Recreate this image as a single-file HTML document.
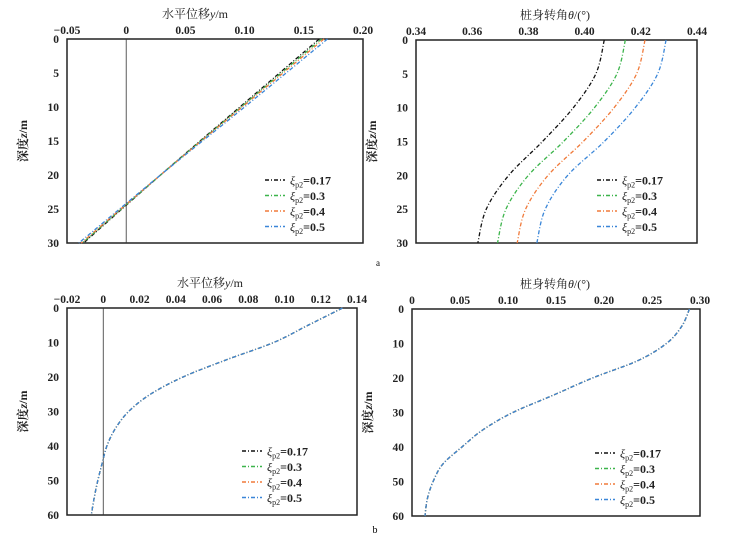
<!DOCTYPE html>
<html><head><meta charset="utf-8"><style>
html,body{margin:0;padding:0;background:#fff;}
svg{display:block;}
text{font-family:"Liberation Serif","Noto Serif CJK SC",serif;}
</style></head><body>
<svg id="fig" width="741" height="544" viewBox="0 0 741 544" xmlns="http://www.w3.org/2000/svg">
<text x="378" y="266" font-size="9" text-anchor="middle">a</text>
<text x="375" y="533" font-size="10" text-anchor="middle">b</text>
</svg>
<script>
// ---- data ----
const seriesNames = ["0.17","0.3","0.4","0.5"];
const seriesColors = ["#111111","#3cb44b","#f07a3a","#3a86d8"];

const depthA = [0, 10, 20, 30];
const dispA_017 = [0.163, 0.096, 0.029, -0.036];
const dispA_03  = [0.165, 0.097, 0.029, -0.037];
const dispA_04  = [0.167, 0.098, 0.029, -0.038];
const dispA_05  = [0.170, 0.100, 0.029, -0.040];

const depthA2 = [0, 5, 10, 15, 20, 25, 30];
const rotA_017 = [0.407, 0.404, 0.396, 0.385, 0.373, 0.365, 0.362];
const rotA_03  = [0.4145, 0.4115, 0.4035, 0.3925, 0.380, 0.372, 0.369];
const rotA_04  = [0.4215, 0.4185, 0.4105, 0.3995, 0.387, 0.379, 0.376];
const rotA_05  = [0.429, 0.426, 0.418, 0.407, 0.394, 0.386, 0.383];

const depthB = [0, 5, 10, 15, 20, 25, 30, 35, 40, 45, 50, 55, 60];
const dispB = [0.132, 0.113, 0.094, 0.068, 0.044, 0.026, 0.014, 0.0066, 0.002, -0.0006, -0.003, -0.005, -0.0066];
const rotB  = [0.289, 0.281, 0.265, 0.235, 0.188, 0.147, 0.105, 0.074, 0.052, 0.032, 0.022, 0.016, 0.0135];

const ticksA1 = ["-0.05","0","0.05","0.10","0.15","0.20"];
const ticksA2 = ["0.34","0.36","0.38","0.40","0.42","0.44"];
const ticksB1 = ["-0.02","0","0.02","0.04","0.06","0.08","0.10","0.12","0.14"];
const ticksB2 = ["0","0.05","0.10","0.15","0.20","0.25","0.30"];
const yTicksA = [0,5,10,15,20,25,30];
const yTicksB = [0,10,20,30,40,50,60];

// ---- drawing ----
const NS = "http://www.w3.org/2000/svg";
const svg = document.getElementById("fig");
function mk(tag, attrs, parent){
  const e = document.createElementNS(NS, tag);
  for (const k in attrs) e.setAttribute(k, attrs[k]);
  (parent||svg).appendChild(e); return e;
}
function smoothPath(pts){
  let d = "M" + pts[0][0].toFixed(2) + "," + pts[0][1].toFixed(2);
  for (let i = 0; i < pts.length - 1; i++){
    const p0 = pts[Math.max(0, i-1)], p1 = pts[i], p2 = pts[i+1], p3 = pts[Math.min(pts.length-1, i+2)];
    const c1x = p1[0] + (p2[0]-p0[0])/6, c1y = p1[1] + (p2[1]-p0[1])/6;
    const c2x = p2[0] - (p3[0]-p1[0])/6, c2y = p2[1] - (p3[1]-p1[1])/6;
    d += ` C${c1x.toFixed(2)},${c1y.toFixed(2)} ${c2x.toFixed(2)},${c2y.toFixed(2)} ${p2[0].toFixed(2)},${p2[1].toFixed(2)}`;
  }
  return d;
}

function panel(id, box, xmin, xmax, ymax, xTicks, yTicks, xTitle, titleX, zeroLine, series, depths, legend){
  const g = mk("g", {});
  
  
  const sx = v => box.x0 + (v - xmin) / (xmax - xmin) * (box.x1 - box.x0);
  const sy = v => box.y0 + v / ymax * (box.y1 - box.y0);
  const frame = mk("rect", {x:box.x0, y:box.y0, width:box.x1-box.x0, height:box.y1-box.y0, fill:"none", stroke:"#222", "stroke-width":1.5}, g);
  
  
  if (zeroLine){
    const zl = mk("line", {x1:sx(0), x2:sx(0), y1:box.y0, y2:box.y1, stroke:"#333", "stroke-width":0.8}, g);
    
    
  }
  xTicks.forEach(t => {
    const tx = mk("text", {x:sx(parseFloat(t)), y:box.y0-5, "font-size":11.5, "font-weight":"bold", "text-anchor":"middle", fill:"#222"}, g);
    tx.textContent = t.replace("-", "\u2212");
    
    
  });
  yTicks.forEach(t => {
    const ty = mk("text", {x:box.x0-8, y:sy(t)+4, "font-size":11.5, "font-weight":"bold", "text-anchor":"end", fill:"#222"}, g);
    ty.textContent = t;
    
    
  });
  const xt = mk("text", {x:titleX, y:box.y0-21, "font-size":12, "text-anchor":"middle", fill:"#222"}, g);
  xt.innerHTML = xTitle;
  
  
  const ycx = box.x0 - 40, ycy = (box.y0+box.y1)/2;
  const yt = mk("text", {x:ycx, y:ycy, "font-size":12, "font-weight":"bold", "text-anchor":"middle", transform:`rotate(-90 ${ycx} ${ycy})`, fill:"#222"}, g);
  yt.innerHTML = '深度<tspan font-style="italic">z</tspan>/m';
  
  
  series.forEach((vals, i) => {
    const pts = vals.map((v, j) => [sx(v), sy(depths[j])]);
    const p = mk("path", {d:smoothPath(pts), fill:"none", stroke:seriesColors[i], "stroke-width":1.3, "stroke-dasharray":"4,2,1,2"}, g);
    
    
  });
  seriesNames.forEach((n, i) => {
    const ly = legend.y + i*15.5;
    const ll = mk("line", {x1:legend.x, x2:legend.x+20, y1:ly, y2:ly, stroke:seriesColors[i], "stroke-width":1.6, "stroke-dasharray":"4,2,1,2"}, g);
    
    
    const lt = mk("text", {x:legend.x+25, y:ly+4.5, "font-size":12, "font-weight":"bold", fill:"#222"}, g);
    lt.innerHTML = '<tspan font-style="italic" font-weight="normal">ξ</tspan><tspan font-size="8" dy="3" font-weight="normal">p2</tspan><tspan dy="-3">=' + n + '</tspan>';
    
    
  });
}

panel("panel-a-displacement", {x0:67,x1:363,y0:39,y1:243}, -0.05, 0.20, 30, ticksA1, yTicksA,
  '水平位移<tspan font-style="italic">y</tspan>/m', 195, true,
  [dispA_017, dispA_03, dispA_04, dispA_05], depthA, {x:265, y:180});
panel("panel-a-rotation", {x0:416,x1:697,y0:40,y1:243}, 0.34, 0.44, 30, ticksA2, yTicksA,
  '桩身转角<tspan font-style="italic">θ</tspan>/(°)', 555, false,
  [rotA_017, rotA_03, rotA_04, rotA_05], depthA2, {x:597, y:180});
panel("panel-b-displacement", {x0:67,x1:357,y0:308,y1:515}, -0.02, 0.14, 60, ticksB1, yTicksB,
  '水平位移<tspan font-style="italic">y</tspan>/m', 210, true,
  [dispB, dispB, dispB, dispB], depthB, {x:242, y:451});
panel("panel-b-rotation", {x0:412,x1:700,y0:309,y1:516}, 0, 0.30, 60, ticksB2, yTicksB,
  '桩身转角<tspan font-style="italic">θ</tspan>/(°)', 555, false,
  [rotB, rotB, rotB, rotB], depthB, {x:595, y:453});
</script>
</body></html>
